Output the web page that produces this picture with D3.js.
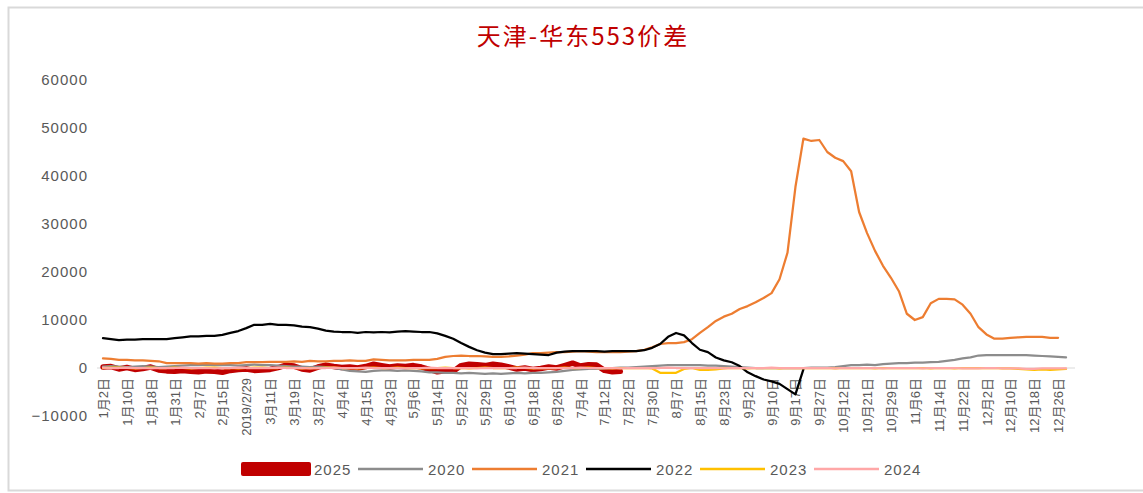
<!DOCTYPE html>
<html>
<head>
<meta charset="utf-8">
<script src="https://cdn.jsdelivr.net/npm/d3@7"></script>
<style>
body{margin:0;background:#fff;}
svg{display:block;}
</style>
</head>
<body>
<div class="container"></div>
<script>
// Chart data (one value every 2 trading days)
const title = "天津-华东553价差";
const tickLabels = ["1月2日","1月10日","1月18日","1月31日","2月7日","2月15日","2019/2/29","3月11日","3月19日","3月27日",
  "4月4日","4月15日","4月23日","5月6日","5月14日","5月22日","5月29日","6月10日","6月18日","6月26日",
  "7月4日","7月12日","7月22日","7月30日","8月7日","8月15日","8月23日","9月2日","9月10日","9月17日",
  "9月27日","10月12日","10月21日","10月29日","11月6日","11月14日","11月22日","12月2日","12月10日","12月18日","12月26日"];
const yTicks = [-10000,0,10000,20000,30000,40000,50000,60000];
const years = ["2025","2020","2021","2022","2023","2024"];
const colors = ["#C00000","#8C8C8C","#ED7D31","#000000","#FFC000","#FFA7A7"];

const v2025 = [200,300,-200,100,-300,-100,200,-400,-600,-700,
  -500,-700,-800,-600,-700,-900,-500,-300,-200,-500,
  -400,-300,100,600,400,-200,-400,200,600,300,
  100,200,0,300,800,500,200,400,300,500,
  200,-300,-800,-600,-700,500,800,700,500,800,
  600,200,-200,0,-300,-100,200,0,500,1000,
  400,700,600,-500,-800,-700];
const v2020 = [300,400,300,200,300,400,300,200,300,400,
  500,600,600,700,600,600,600,500,600,700,
  600,600,500,400,300,300,200,300,200,0,
  -300,-600,-700,-800,-600,-500,-500,-600,-500,-600,
  -700,-900,-900,-1000,-1000,-1100,-1000,-1100,-1200,-1100,
  -1200,-1100,-1000,-1100,-1000,-1000,-900,-800,-600,-400,
  -300,-200,-200,-100,0,100,100,200,300,400,
  500,600,600,600,600,600,500,500,400,300,
  200,100,0,0,0,0,0,0,0,100,
  100,100,200,400,600,600,700,600,800,900,
  1000,1000,1100,1100,1200,1300,1500,1700,2000,2200,
  2600,2700,2700,2700,2700,2700,2700,2600,2500,2400,
  2300,2200];
const v2021 = [2000,1900,1700,1700,1600,1600,1500,1400,1000,1000,
  1000,1000,900,1000,900,900,1000,1000,1200,1200,
  1200,1300,1300,1300,1400,1300,1500,1400,1400,1500,
  1500,1600,1500,1500,1800,1700,1600,1600,1600,1700,
  1700,1700,1900,2300,2500,2600,2500,2500,2400,2300,
  2300,2400,2600,2800,3100,3100,3200,3300,3300,3400,
  3500,3400,3300,3300,3300,3300,3400,3500,3800,4300,
  5000,5200,5200,5400,6000,7300,8500,9800,10700,11300,
  12300,12900,13700,14600,15600,18500,24000,37700,47800,47300,
  47500,45000,43800,43100,41000,32500,28100,24400,21300,18800,
  16000,11300,10000,10600,13500,14400,14400,14300,13200,11300,
  8500,7000,6100,6100,6300,6400,6500,6500,6500,6300,
  6300];
const v2022 = [6200,6000,5800,5900,5900,6000,6000,6000,6000,6200,
  6400,6600,6600,6700,6700,6900,7300,7700,8300,9000,
  9000,9200,9000,9000,8900,8600,8500,8200,7800,7600,
  7500,7500,7300,7500,7400,7500,7400,7600,7700,7600,
  7500,7500,7200,6700,6100,5200,4400,3700,3200,2900,
  2900,3000,3100,3000,2900,2800,2700,3200,3400,3500,
  3500,3500,3500,3400,3500,3500,3500,3500,3700,4200,
  5000,6500,7300,6800,5200,3800,3300,2200,1600,1200,
  400,-900,-1700,-2400,-2800,-3300,-4400,-5500,-300];
const v2023 = [0,100,100,0,-100,0,100,0,0,100,
  0,-100,0,100,100,0,0,-100,0,100,
  100,0,0,100,0,-100,0,0,100,100,
  0,0,-100,0,100,0,0,100,0,0,
  -100,0,0,100,0,0,-100,0,100,0,
  0,0,100,0,-100,0,0,0,100,0,
  0,100,0,0,-100,0,0,0,0,-100,
  -1000,-1000,-1000,-200,0,-400,-400,-300,-100,0,
  0,-100,0,0,0,-100,0,0,0,0,
  0,0,-100,0,0,0,0,-100,0,0,
  0,0,0,0,-100,0,0,-100,0,0,
  0,0,0,-100,-100,-200,-300,-400,-300,-400,
  -300,-200];
const v2024 = [100,0,0,100,0,0,-100,0,0,0,
  100,0,0,0,-100,0,0,100,0,0,
  0,0,100,0,0,0,-100,0,0,100,
  0,0,0,100,0,0,0,0,-100,0,
  0,100,0,0,0,0,0,-100,0,0,
  0,0,0,100,0,0,0,0,0,0,
  100,0,0,0,0,-100,0,0,0,0,
  0,100,0,0,0,0,0,0,-100,0,
  0,0,0,0,100,0,0,0,0,0,
  0,0,-100,0,0,0,0,0,-100,0,
  0,0,0,-100,0,0,0,0,-100,-100,
  -100,0,0,-100,-100,-100,-200,-200,-100,-100,
  -100,-100];
const series = [v2025, v2020, v2021, v2022, v2023, v2024];

// Dimensions
const w = 1143;
const h = 493;
const nPoints = 123;

const svg = d3.select(".container")
  .append("svg")
  .attr("width", w)
  .attr("height", h);

// chart frame
svg.append("rect")
  .attr("x", 8.5)
  .attr("y", 7.5)
  .attr("width", 1150)
  .attr("height", 483)
  .attr("fill", "none")
  .attr("stroke", "#d9d9d9")
  .attr("stroke-width", 2);

// Scales
const xScale = d3.scaleLinear()
  .domain([0, nPoints - 1])
  .range([103, 1074]);
const yScale = d3.scaleLinear()
  .domain([-10000, 60000])
  .range([416, 80]);

// Title
svg.append("text")
  .attr("x", 583)
  .attr("y", 45)
  .attr("text-anchor", "middle")
  .style("font-family", "'Noto Sans CJK SC'")
  .style("font-size", "24px")
  .style("letter-spacing", "2px")
  .style("fill", "#C00000")
  .text(title);

// y axis
const yAxis = d3.axisLeft(yScale)
  .tickValues(yTicks)
  .tickSize(0)
  .tickPadding(0)
  .tickFormat(d => d < 0 ? "\u2212" + Math.abs(d) : d);
const yG = svg.append("g")
  .attr("transform", "translate(88,0)")
  .call(yAxis);
yG.select(".domain").remove();
yG.selectAll("text")
  .style("font-family", "'Liberation Sans', Arial, sans-serif")
  .style("font-size", "15px")
  .style("letter-spacing", "1px")
  .style("fill", "#595959");

// x axis (category labels every 3 points)
const xAxis = d3.axisBottom(xScale)
  .tickValues(d3.range(0, tickLabels.length * 3, 3))
  .tickSize(0)
  .tickFormat(d => tickLabels[d / 3]);
const xG = svg.append("g")
  .attr("transform", `translate(0,${yScale(0)})`)
  .call(xAxis);
xG.select(".domain")
  .attr("d", `M97,0H1075`)
  .attr("stroke", "#d9d9d9");
xG.selectAll("text")
  .attr("transform", "rotate(-90)")
  .attr("x", -10)
  .attr("y", 0)
  .attr("dy", "0.35em")
  .style("text-anchor", "end")
  .style("font-family", "'Liberation Sans', Arial, 'Noto Sans CJK SC', sans-serif")
  .style("font-size", "13px")
  .style("fill", "#595959");

// Lines
const line = d3.line()
  .x((d, i) => xScale(i))
  .y(d => yScale(d));

svg.selectAll(".series")
  .data(series)
  .enter()
  .append("path")
  .attr("class", "series")
  .attr("d", d => line(d))
  .attr("fill", "none")
  .attr("stroke", (d, i) => colors[i])
  .attr("stroke-width", (d, i) => i == 0 ? 5.5 : 2.25)
  .attr("stroke-linejoin", "round")
  .attr("stroke-linecap", "round");

// Legend
const legend = svg.append("g").attr("id", "legend");
const legendItem = legend.selectAll("g")
  .data(years)
  .enter()
  .append("g")
  .attr("transform", (d, i) => `translate(${314 + i * 114},469)`);

legendItem.filter((d, i) => i == 0)
  .append("rect")
  .attr("x", -73)
  .attr("y", -7)
  .attr("width", 70)
  .attr("height", 14)
  .attr("rx", 2)
  .attr("fill", colors[0]);

legendItem.filter((d, i) => i > 0)
  .append("line")
  .attr("x1", -70)
  .attr("x2", -5)
  .attr("stroke", (d, i) => colors[i + 1])
  .attr("stroke-width", 2.5);

legendItem.append("text")
  .attr("x", 0)
  .attr("y", 5.5)
  .style("font-family", "'Liberation Sans', Arial, sans-serif")
  .style("font-size", "15px")
  .style("letter-spacing", "1px")
  .style("fill", "#595959")
  .text(d => d);
</script>
</body>
</html>
